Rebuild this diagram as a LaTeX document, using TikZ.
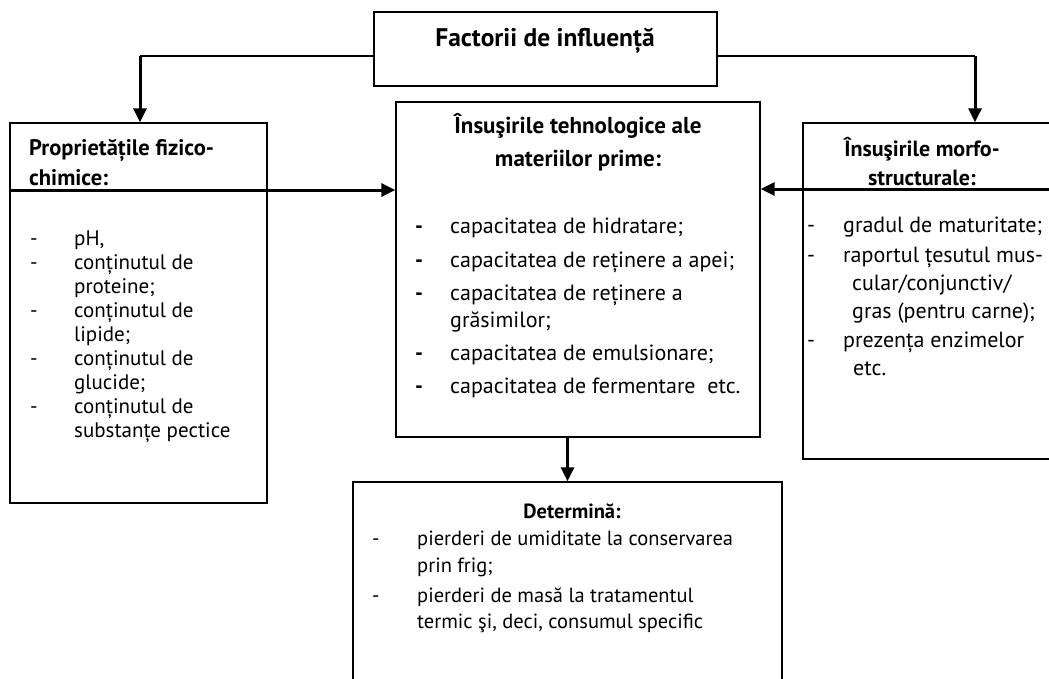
\documentclass[tikz,border=0pt]{standalone}
\usepackage{fontspec}
\setmainfont{PT Sans}
\usetikzlibrary{arrows.meta}

\tikzset{
  box/.style={draw, line width=1.3pt, inner sep=0pt},
  link/.style={line width=1.3pt},
  flow/.style={line width=3pt, -{Triangle[length=14pt,width=13pt]}},
  txt/.style={anchor=base west, inner sep=0pt, font=\fontsize{#1}{#1}\selectfont},
  txt/.default=21,
  bold/.style={anchor=base west, inner sep=0pt, font=\fontsize{#1}{#1}\selectfont\bfseries},
  bold/.default=23,
  centre/.style={bold=#1, anchor=base},
  centre/.default=23,
}

\begin{document}
\begin{tikzpicture}[x=1pt,y=-1pt]
        \useasboundingbox (0,0) rectangle (1049,678);

        % boxes
        \node[box, minimum width=343pt, minimum height=74pt] (factori) at (545.5,49) {};
        \node[box, minimum width=257pt, minimum height=380pt] (fizico) at (138.5,313) {};
        \node[box, minimum width=364pt, minimum height=335pt] (tehno) at (578,269.5) {};
        \node[box, minimum width=257pt, minimum height=336pt] (morfo) at (931.5,291) {};
        \node[box, minimum width=429pt, minimum height=218pt] (determina) at (567.5,591) {};

        % headings
        \node[centre=25.5] (tfactori) at (545,46) {Factorii de influență};
        \node[bold=22.5] (tfizico1) at (29,155) {Proprietățile fizico-};
        \node[bold=22.5] (tfizico2) at (29,185) {chimice:};
        \node[centre] (ttehno1) at (578,133) {Însuşirile tehnologice ale};
        \node[centre] (ttehno2) at (578,166) {materiilor prime:};
        \node[centre=22] (tmorfo1) at (922,156) {Însuşirile morfo-};
        \node[centre=22] (tmorfo2) at (922,185) {structurale:};
        \node[centre=20.5] (tdetermina) at (572,518) {Determină:};

        % connectors
        \coordinate (kl) at (140,56);
        \coordinate (kr) at (975,56);
        \coordinate (rowl) at (0,190);
        \coordinate (rowr) at (0,189);
        \draw[link] (factori.west |- kl) -- (kl);
        \draw[flow] (kl) -- (kl |- fizico.north);
        \draw[link] (factori.east |- kr) -- (kr);
        \draw[flow] (kr) -- (kr |- morfo.north);
        \draw[flow] (fizico.west |- rowl) -- (tehno.west |- rowl);
        \draw[flow] (morfo.east |- rowr) -- (tehno.east |- rowr);
        \draw[flow] (tehno.south -| determina.north) -- (determina.north);

        % left list
        \foreach \y/\t [count=\i] in {245/pH{,}, 269/conținutul de, 293/proteine;, 317/conținutul de,
            341/lipide;, 365/conținutul de, 389/glucide;, 413/conținutul de, 437/substanțe pectice}
            \node[txt] (fl\i) at (74,\y) {\t};
        \foreach \y [count=\i] in {245,269,317,365,413}
            \node[txt] (fd\i) at (30,\y) {-};

        % middle list
        \foreach \y/\t [count=\i] in {233/capacitatea de hidratare;, 267/capacitatea de reținere a apei;,
            300/capacitatea de reținere a, 327/grăsimilor;, 360/capacitatea de emulsionare;,
            393/capacitatea de fermentare\ \ etc.}
            \node[txt=22] (tl\i) at (450,\y) {\t};
        \foreach \y [count=\i] in {233,267,300,360,393}
            \node[bold=22] (td\i) at (415,\y) {-};

        % right list
        \foreach \x/\y/\t [count=\i] in {843/232/gradul de maturitate;, 843/262/raportul țesutul mus-,
            852/290/{cular/conjunctiv/}, 852/318/gras (pentru carne);, 843/347/prezența enzimelor,
            853/375/etc.}
            \node[txt=22] (ml\i) at (\x,\y) {\t};
        \foreach \y [count=\i] in {232,262,347}
            \node[txt=22] (md\i) at (807,\y) {-};

        % bottom list
        \foreach \y/\t [count=\i] in {545/pierderi de umiditate la conservarea, 572/prin frig;,
            602/pierderi de masă la tratamentul, 628/termic şi{,} deci{,} consumul specific}
            \node[txt=20.5] (dl\i) at (417,\y) {\t};
        \foreach \y [count=\i] in {545,602}
            \node[txt=20.5] (dd\i) at (372,\y) {-};

    \end{tikzpicture}
\end{document}
